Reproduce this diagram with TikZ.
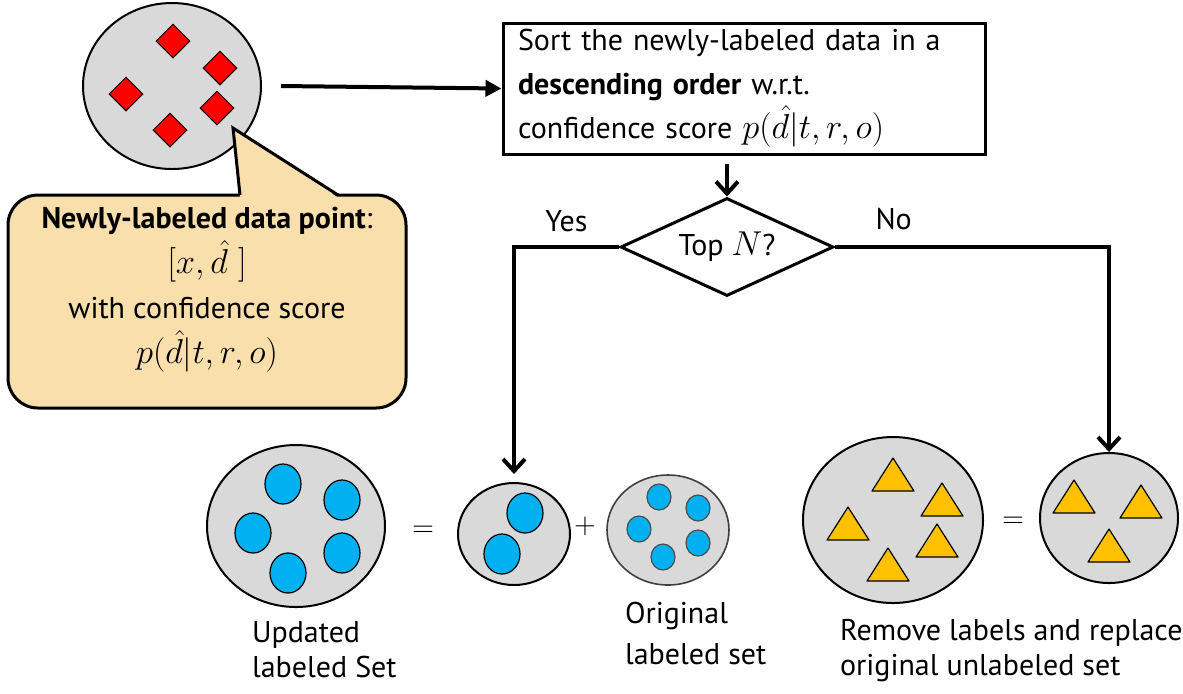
\documentclass[tikz,border=0pt]{standalone}
\usepackage{amsmath}
\usepackage{fontspec}
\setmainfont{PT Sans}
\usepackage{tikz}
\usetikzlibrary{arrows.meta}
\usetikzlibrary{shapes.geometric}
\usetikzlibrary{calc}
\definecolor{setgray}{RGB}{217,217,217}
\definecolor{dotblue}{RGB}{0,176,240}
\definecolor{triorange}{RGB}{255,192,0}
\definecolor{notefill}{RGB}{249,223,172}
\newcommand{\mth}[1]{{\fontsize{19}{22}\selectfont$#1$}}
\tikzset{t/.style={font=\fontsize{15}{22}\selectfont}}
\tikzset{set/.style={ellipse,draw,fill=setgray,line width=1pt,inner sep=0pt}}
\tikzset{redmark/.style={diamond,draw,fill=red,line width=0.5pt,inner sep=0pt,minimum width=17pt,minimum height=17pt}}
\tikzset{dot/.style={draw,fill=dotblue,line width=0.6pt}}
\tikzset{tri/.style={draw,fill=triorange,line width=0.6pt,line join=round}}
\tikzset{arr/.style={line width=2pt,-{Straight Barb[length=6pt,width=11pt]}}}

\begin{document}
\begin{tikzpicture}[x=0.5pt,y=-0.5pt]
          \useasboundingbox (0,0) rectangle (1183,693);
          % newly labeled data
          \node[set,minimum width=89pt,minimum height=83pt] (newset) at (172,86) {};
          \foreach \x/\y [count=\i] in {173/41,220/68,126/94,217/108,170/130}
            \node[redmark] (nd\i) at (\x,\y) {};
          \draw[line width=1.5pt,fill=notefill,rounded corners=15pt] (8,195) rectangle (406,408);
          \fill[notefill] (240,197.5) -- (233,128) -- (338,197.5) -- cycle;
          \draw[line width=1.5pt] (240,195) -- (233,128) -- (338,195);
          \node[t,align=center,font=\fontsize{15}{22.5}\selectfont] (note) at (207,290)
            {\textbf{Newly-labeled data point}:\\ \mth{[x,\hat{d}\ ]}\\ with confidence score\\ \mth{p(\hat{d}|t,r,o)}};
          % sorting and decision
          \node[t,draw,line width=1.5pt,minimum width=241pt,minimum height=65.5pt,
            text width=226pt,align=left,inner sep=0pt] (sortbox) at (744,88.5)
            {Sort the newly-labeled data in a\\ \textbf{descending order} w.r.t.\\ confidence score \mth{p(\hat{d}|t,r,o)}};
          \draw[line width=2pt,-{Triangle[length=8pt,width=8pt]}] ([xshift=9.5pt]newset.east) -- (sortbox.west);
          \node[t,diamond,draw,line width=1.5pt,aspect=2.17,inner sep=0pt,
            minimum width=106.5pt,minimum height=49pt] (topn) at (727,247) {Top \mth{N}?};
          \draw[arr] ([yshift=-4pt]sortbox.south -| topn.north) -- (topn.north);
          % result sets
          \node[set,minimum width=89pt,minimum height=81pt] (upset) at (296,526) {};
          \node[set,minimum width=56pt,minimum height=51pt] (midset) at (514,534) {};
          \node[set,draw=black!75,line width=0.8pt,minimum width=61pt,minimum height=55pt] (origset) at (668,530) {};
          \node[set,minimum width=90pt,minimum height=83pt] (remset) at (893,520) {};
          \node[set,minimum width=69pt,minimum height=65pt] (newunl) at (1109,518) {};
          \draw[arr,shorten >=4pt] (topn.west) -| node[t,pos=0.25,above,yshift=3pt] {Yes} (midset.north);
          \draw[arr] (topn.east) -| node[t,pos=0.107,above,yshift=4pt] {No} (newunl.north);
          \foreach \x/\y in {283/484,342/500,253/533,342/553,288/573,525/513,502/554}
            \filldraw[dot] (\x,\y) ellipse [x radius=9pt,y radius=10pt];
          \foreach \x/\y in {659/497,698/508,639/529,698/543,663/557}
            \filldraw[dot,draw=black!70] (\x,\y) ellipse [x radius=6pt,y radius=6.5pt];
          \foreach \x/\y in {893/475,942/500,848/524,937/541,888/565,1074/497,1141/502,1109/546}
            \filldraw[tri] (\x-21,\y+16) -- (\x,\y-17) -- (\x+21,\y+16) -- cycle;
          \node[t] (eqa) at (423,531) {$=$};
          \node[t] (plus) at (585,526) {$+$};
          \node[t] (eqb) at (1013,522) {$=$};
          \node[t,align=left,anchor=west,font=\fontsize{15}{17.5}\selectfont] (uplabel) at (245,650) {Updated\\labeled Set};
          \node[t,align=left,anchor=west,font=\fontsize{15}{20.5}\selectfont] (origlabel) at (618,633) {Original\\labeled set};
          \node[t,align=left,anchor=west,font=\fontsize{15}{17.5}\selectfont] (remlabel) at (833,651) {Remove labels and replace\\original unlabeled set};
        \end{tikzpicture}
\end{document}
